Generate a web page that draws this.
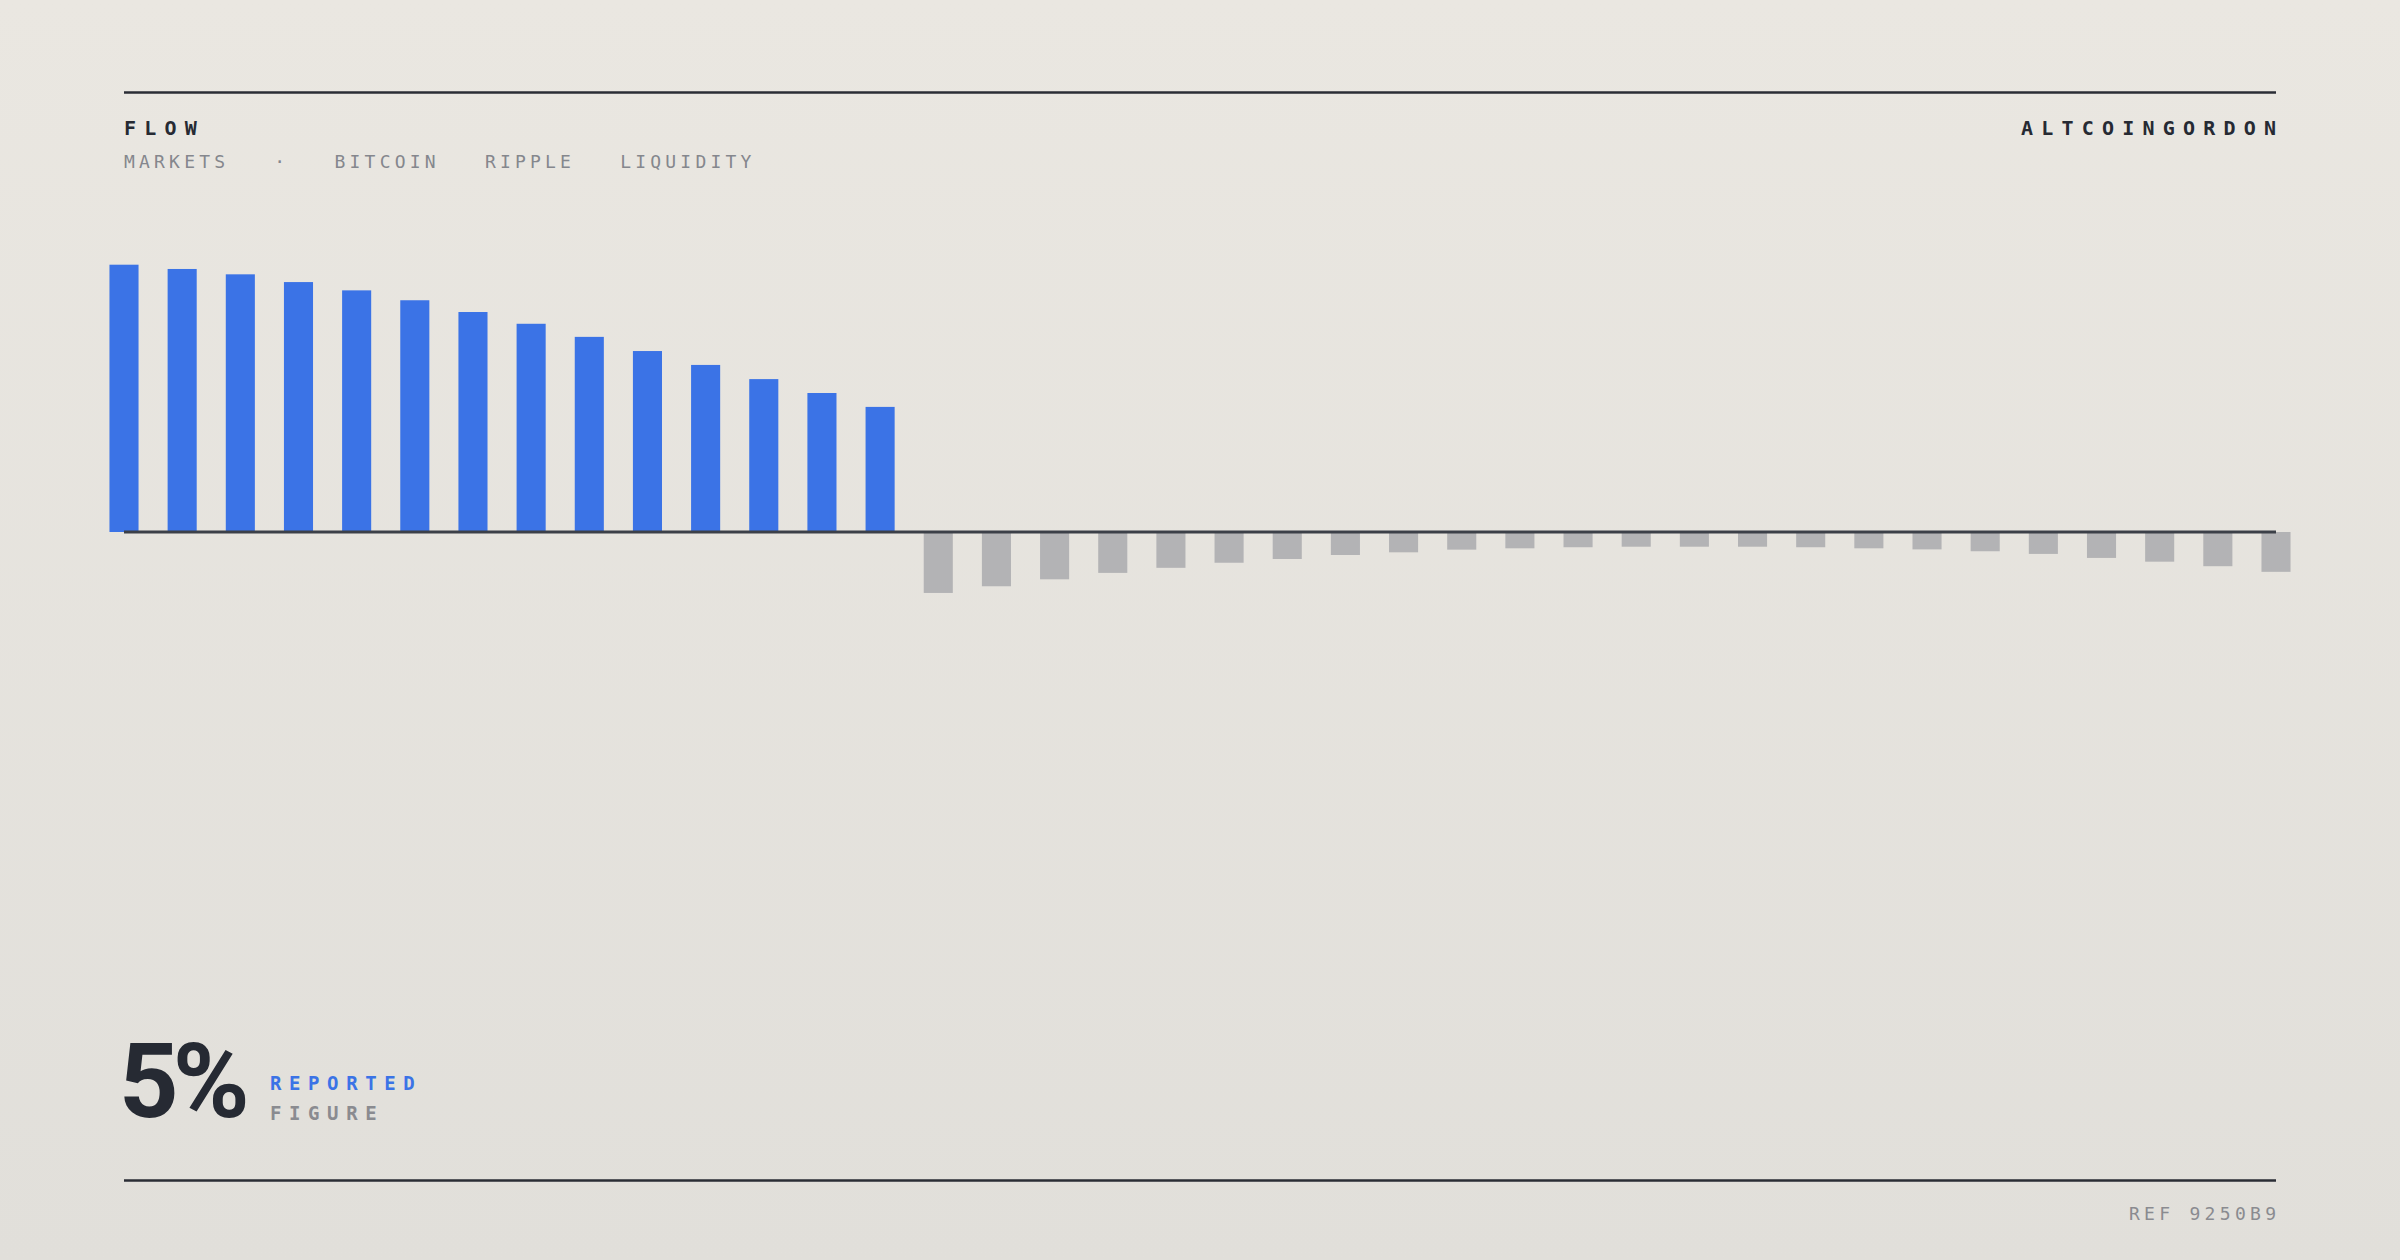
<!DOCTYPE html>
<html>
<head>
<meta charset="utf-8">
<script src="https://cdn.jsdelivr.net/npm/d3@7"></script>
<style>
  html, body { margin: 0; padding: 0; }
  body { width: 2400px; height: 1260px; overflow: hidden;
         background: linear-gradient(180deg, #eae7e1 0%, #e1dfda 100%); }
  .mono { font-family: "DejaVu Sans Mono", monospace; }
</style>
</head>
<body>
<div id="chart"></div>
<script>
// Flow chart - inflow bars (blue) then outflow bars (gray)

// Datos
var inflow = [10.0, 9.84, 9.64, 9.35, 9.04, 8.67, 8.23, 7.79, 7.30, 6.77, 6.25, 5.72, 5.20, 4.68];
var outflow = [-2.28, -2.03, -1.77, -1.53, -1.34, -1.15, -1.01, -0.86, -0.76, -0.66, -0.61, -0.57,
  -0.55, -0.55, -0.55, -0.57, -0.61, -0.65, -0.72, -0.82, -0.97, -1.11, -1.28, -1.49];
var tags = ["MARKETS", "·", "BITCOIN", "RIPPLE", "LIQUIDITY"];
var title = "FLOW";
var brand = "ALTCOINGORDON";
var figure = "5%";
var figureLabels = ["REPORTED", "FIGURE"];
var ref = "REF 9250B9";

// Medidas
var width = 2400;
var height = 1260;
var left = 124;
var right = 2276;

var values = inflow.concat(outflow);

var svg = d3
  .select("#chart")
  .append("svg")
  .attr("width", width)
  .attr("height", height);

// Escalas
var xScale = d3
  .scalePoint()
  .domain(values.map(function(d, i) { return i; }))
  .range([left, right]);

var barW = xScale.step() * 0.5;

var yScale = d3
  .scaleLinear()
  .domain([0, 10])
  .range([532, 264.7]);

// Barras
svg
  .append("g")
  .selectAll("rect")
  .data(values)
  .enter()
  .append("rect")
  .attr("x", function(d, i) { return xScale(i) - barW / 2; })
  .attr("y", function(d) { return yScale(Math.max(0, d)); })
  .attr("width", barW)
  .attr("height", function(d) { return Math.abs(yScale(d) - yScale(0)); })
  .attr("fill", function(d) { return d >= 0 ? "#3b73e6" : "#b3b3b5"; });

// Linea del cero
svg
  .append("line")
  .attr("x1", left)
  .attr("x2", right)
  .attr("y1", yScale(0))
  .attr("y2", yScale(0))
  .attr("stroke", "#3c4048")
  .attr("stroke-width", 3);

// Reglas arriba y abajo
[92.5, 1180.5].forEach(function(y) {
  svg
    .append("line")
    .attr("x1", left)
    .attr("x2", right)
    .attr("y1", y)
    .attr("y2", y)
    .attr("stroke", "#2a2d35")
    .attr("stroke-width", 2.5);
});

// Titulo
svg
  .append("text")
  .attr("class", "mono")
  .attr("x", left)
  .attr("y", 135)
  .attr("font-size", 20)
  .attr("font-weight", 700)
  .attr("letter-spacing", 8.2)
  .attr("fill", "#262a33")
  .text(title);

svg
  .append("text")
  .attr("class", "mono")
  .attr("x", right + 8.2)
  .attr("y", 135)
  .attr("text-anchor", "end")
  .attr("font-size", 20)
  .attr("font-weight", 700)
  .attr("letter-spacing", 8.2)
  .attr("fill", "#262a33")
  .text(brand);

// Subtitulo
svg
  .append("text")
  .attr("class", "mono")
  .attr("x", left)
  .attr("y", 168)
  .attr("font-size", 18)
  .attr("letter-spacing", 4.2)
  .attr("fill", "#85878d")
  .style("white-space", "pre")
  .text(tags.join("   "));

// Cifra
svg
  .append("text")
  .attr("x", 119)
  .attr("y", 1117)
  .attr("font-family", "Roboto, 'Liberation Sans', sans-serif")
  .attr("font-size", 104)
  .attr("font-weight", 700)
  .attr("letter-spacing", -6)
  .attr("fill", "#262a33")
  .text(figure);

svg
  .selectAll(".figLabel")
  .data(figureLabels)
  .enter()
  .append("text")
  .attr("class", "mono figLabel")
  .attr("x", 270)
  .attr("y", function(d, i) { return 1090 + i * 30; })
  .attr("font-size", 19)
  .attr("font-weight", 700)
  .attr("letter-spacing", 7.6)
  .attr("fill", function(d, i) { return i === 0 ? "#3b73e6" : "#8a8b90"; })
  .text(function(d) { return d; });

// Referencia
svg
  .append("text")
  .attr("class", "mono")
  .attr("x", right + 4.3)
  .attr("y", 1220)
  .attr("text-anchor", "end")
  .attr("font-size", 18)
  .attr("letter-spacing", 4.3)
  .attr("fill", "#8a8b90")
  .style("white-space", "pre")
  .text(ref);
</script>
</body>
</html>
